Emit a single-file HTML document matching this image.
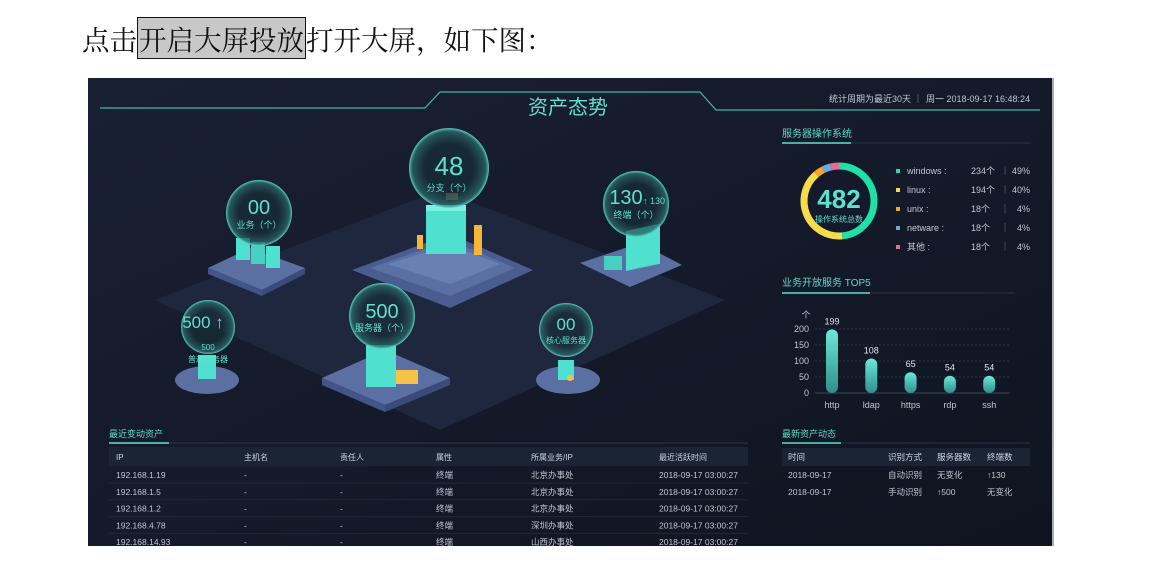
<!DOCTYPE html>
<html><head><meta charset="utf-8">
<style>
html,body{margin:0;padding:0;background:#fff;width:1150px;height:584px;overflow:hidden}
.top{position:absolute;left:82px;top:18px;font-family:"Noto Serif CJK SC","Liberation Serif",serif;font-size:27.5px;color:#111;line-height:40px;white-space:nowrap}
.hl{background:#c8c8c8;border:1.5px solid #111;padding:0 1px}
svg{position:absolute;left:0;top:0}
text{font-family:"Liberation Sans","Noto Sans CJK SC",sans-serif}
</style></head><body>
<div class="top">点击<span class="hl">开启大屏投放</span>打开大屏，如下图：</div>
<svg width="1150" height="584">
<defs>
<linearGradient id="bg" x1="0" y1="0" x2="1" y2="1"><stop offset="0" stop-color="#1a2034"/><stop offset="1" stop-color="#0f1420"/></linearGradient>
<radialGradient id="bub" cx="0.5" cy="0.5" r="0.5"><stop offset="0.6" stop-color="#17303a" stop-opacity="0.6"/><stop offset="0.92" stop-color="#2a6a6a" stop-opacity="0.8"/><stop offset="1" stop-color="#5ee0cf" stop-opacity="0.9"/></radialGradient>
<linearGradient id="bar" x1="0" y1="0" x2="0" y2="1"><stop offset="0" stop-color="#6ae8d8"/><stop offset="1" stop-color="#2f8f8c"/></linearGradient>
<clipPath id="dash"><rect x="88" y="78" width="966" height="468"/></clipPath>
</defs>
<g clip-path="url(#dash)">
<rect x="88" y="78" width="966" height="468" fill="url(#bg)"/>
<rect x="1052" y="78" width="3" height="468" fill="#aab0b8"/>
<polyline points="100,108 425,108 440,92 700,92 716,110 1040,110" fill="none" stroke="#3fb8aa" stroke-width="1.2"/>
<text x="568" y="114" text-anchor="middle" font-size="20" fill="#5ee0cf">资产态势</text>
<text x="829" y="102" font-size="9" fill="#c0c6d0">统计周期为最近30天</text>
<line x1="918" y1="94" x2="918" y2="103" stroke="#556"/>
<text x="926" y="102" font-size="9" fill="#c0c6d0">周一 2018-09-17 16:48:24</text>

<g>
<polygon points="155,300 440,190 725,300 440,430" fill="#222a44" opacity="0.8"/>
<polygon points="208,268 250,248 305,268 262,290" fill="#5b6fa3"/>
<polygon points="208,268 262,290 262,296 208,274" fill="#42548a"/><polygon points="262,290 305,268 305,274 262,296" fill="#3a4a7a"/>
<rect x="236" y="238" width="14" height="22" fill="#4fe0d0"/><rect x="251" y="242" width="14" height="22" fill="#46d0c2"/><rect x="266" y="246" width="14" height="22" fill="#4fe0d0"/>
<polygon points="352,270 450,234 533,270 450,308" fill="#4a5c90"/>
<polygon points="370,268 450,240 515,268 450,296" fill="#5b6fa3"/>
<polygon points="388,264 450,245 500,264 450,284" fill="#6a80b5"/>
<rect x="426" y="210" width="40" height="44" fill="#4fe0d0"/><rect x="426" y="205" width="40" height="6" fill="#7af0e2"/>
<rect x="474" y="225" width="8" height="30" fill="#f5b63a"/><rect x="417" y="235" width="6" height="14" fill="#f5b63a"/>
<rect x="446" y="193" width="12" height="7" fill="#8a7a50"/>
<polygon points="580,263 640,243 682,265 630,287" fill="#5b6fa3"/>
<rect x="626" y="230" width="34" height="40" fill="#4fe0d0" transform="skewY(-12) translate(0,134)"/>
<rect x="604" y="256" width="18" height="14" fill="#46d0c2"/>
<polygon points="322,378 385,350 450,378 385,405" fill="#5b6fa3"/>
<polygon points="322,378 385,405 385,412 322,385" fill="#42548a"/><polygon points="385,405 450,378 450,385 385,412" fill="#3a4a7a"/>
<rect x="366" y="345" width="30" height="42" fill="#4fe0d0"/><rect x="396" y="370" width="22" height="14" fill="#f5c24a"/>
<ellipse cx="207" cy="380" rx="32" ry="14" fill="#5b6fa3"/><rect x="198" y="355" width="18" height="24" fill="#4fe0d0"/>
<ellipse cx="568" cy="380" rx="32" ry="14" fill="#5b6fa3"/><rect x="558" y="360" width="16" height="20" fill="#4fe0d0"/><circle cx="570" cy="378" r="3" fill="#f5c24a"/>
</g>
<g fill="#5ee0cf" text-anchor="middle">
<circle cx="259" cy="213" r="33" fill="url(#bub)"/><text x="259" y="214" font-size="20">00</text><text x="259" y="228" font-size="9">业务（个）</text>
<circle cx="449" cy="168" r="40" fill="url(#bub)"/><text x="449" y="175" font-size="26">48</text><text x="449" y="191" font-size="9">分支（个）</text>
<circle cx="636" cy="204" r="33" fill="url(#bub)"/><text x="626" y="204" font-size="20">130</text><text x="654" y="204" font-size="9">↑ 130</text><text x="636" y="218" font-size="9">终端（个）</text>
<circle cx="208" cy="327" r="27" fill="url(#bub)"/><text x="203" y="328" font-size="17">500 ↑</text><text x="208" y="350" font-size="8">500</text><text x="208" y="362" font-size="8">普通服务器</text>
<circle cx="382" cy="316" r="33" fill="url(#bub)"/><text x="382" y="318" font-size="20">500</text><text x="382" y="331" font-size="9">服务器（个）</text>
<circle cx="566" cy="330" r="27" fill="url(#bub)"/><text x="566" y="330" font-size="17">00</text><text x="566" y="343" font-size="8">核心服务器</text>
</g>

<text x="782" y="137" font-size="10" fill="#5fd8c8">服务器操作系统</text>
<line x1="782" y1="143" x2="1030" y2="143" stroke="#2a3348"/><line x1="782" y1="143" x2="851" y2="143" stroke="#5ee0cf" stroke-width="1.5"/>
<g id="donut"></g>
<text x="839" y="208" text-anchor="middle" font-size="26" font-weight="bold" fill="#5ee0cf">482</text>
<text x="839" y="222" text-anchor="middle" font-size="8" fill="#5ee0cf">操作系统总数</text>
<g id="legend"></g>

<text x="782" y="286" font-size="10" fill="#5fd8c8">业务开放服务 TOP5</text>
<line x1="782" y1="293" x2="1015" y2="293" stroke="#2a3348"/><line x1="782" y1="293" x2="870" y2="293" stroke="#5ee0cf" stroke-width="1.5"/>
<text x="806" y="318" text-anchor="middle" font-size="9" fill="#c0c6d0">个</text>
<g id="bars"></g>

<text x="109" y="437" font-size="9" fill="#5fd8c8">最近变动资产</text>
<line x1="109" y1="443" x2="748" y2="443" stroke="#2a3348"/><line x1="109" y1="443" x2="169" y2="443" stroke="#5ee0cf" stroke-width="1.5"/>
<rect x="109" y="447" width="639" height="19" fill="#1b2434"/>
<g id="ltable"></g>

<text x="782" y="437" font-size="9" fill="#5fd8c8">最新资产动态</text>
<line x1="782" y1="443" x2="1030" y2="443" stroke="#2a3348"/><line x1="782" y1="443" x2="841" y2="443" stroke="#5ee0cf" stroke-width="1.5"/>
<rect x="782" y="448" width="248" height="18" fill="#1b2434"/>
<g id="rtable"></g>
</g>
</svg>
<script>
const osNames=["windows","linux","unix","netware","其他"];
const osCounts=[234,194,18,18,18];
const osPct=["49%","40%","4%","4%","4%"];
const osColors=["#1fe0a8","#f6dc4a","#f5a623","#6fa8dc","#e86c8e"];
const svcNames=["http","ldap","https","rdp","ssh"];
const svcValues=[199,108,65,54,54];
const yTicks=[0,50,100,150,200];
const NS="http://www.w3.org/2000/svg";
function mk(tag,attrs,parent,txt){const e=document.createElementNS(NS,tag);for(const k in attrs)e.setAttribute(k,attrs[k]);if(txt!==undefined)e.textContent=txt;parent.appendChild(e);return e;}
const dg=document.getElementById('donut');const cx=839,cy=201,r=35;
const tot=osCounts.reduce((a,b)=>a+b,0);let a0=0;
osCounts.forEach((v,i)=>{const a1=a0+v/tot*2*Math.PI;
 const x0=cx+r*Math.sin(a0),y0=cy-r*Math.cos(a0),x1=cx+r*Math.sin(a1),y1=cy-r*Math.cos(a1);
 const p=mk('path',{d:`M${x0},${y0} A${r},${r} 0 ${a1-a0>Math.PI?1:0} 1 ${x1},${y1}`,fill:'none',stroke:osColors[i],'stroke-width':7},dg);
 
 
 a0=a1;});
const lg=document.getElementById('legend');
osNames.forEach((n,i)=>{const y=174+i*19;
 const g=mk('g',{},lg);
 
 
 mk('rect',{x:896,y:y-5,width:4,height:4,fill:osColors[i]},g);
 mk('text',{x:907,y:y,'font-size':9,fill:'#c0c6d0'},g,n+' :');
 mk('text',{x:971,y:y,'font-size':9,fill:'#c0c6d0'},g,osCounts[i]+'个');
 mk('line',{x1:1005,y1:y-8,x2:1005,y2:y+1,stroke:'#3a4458'},g);
 mk('text',{x:1030,y:y,'font-size':9,fill:'#c0c6d0','text-anchor':'end'},g,osPct[i]);});
const bg=document.getElementById('bars');
const yS=v=>393-v*0.32; const xS=i=>832+i*39.3;
yTicks.forEach(t=>{mk('text',{x:809,y:yS(t)+3,'font-size':9,fill:'#c0c6d0','text-anchor':'end'},bg,t);
 if(t>0)mk('line',{x1:815,y1:yS(t),x2:1010,y2:yS(t),stroke:'#2a3348','stroke-dasharray':'2,2'},bg);});
mk('line',{x1:815,y1:yS(0),x2:1010,y2:yS(0),stroke:'#3a4458'},bg);
svcValues.forEach((v,i)=>{const b=mk('rect',{x:xS(i)-6,y:yS(v),width:12,height:yS(0)-yS(v),rx:6,fill:'url(#bar)'},bg);
 
 
 mk('text',{x:xS(i),y:yS(v)-5,'font-size':9,fill:'#e0e4ea','text-anchor':'middle'},bg,v);
 mk('text',{x:xS(i),y:408,'font-size':9,fill:'#c0c6d0','text-anchor':'middle'},bg,svcNames[i]);});
const lcols=[116,244,340,436,531,659];
const lhead=["IP","主机名","责任人","属性","所属业务/IP","最近活跃时间"];
const lrows=[["192.168.1.19","-","-","终端","北京办事处","2018-09-17 03:00:27"],["192.168.1.5","-","-","终端","北京办事处","2018-09-17 03:00:27"],["192.168.1.2","-","-","终端","北京办事处","2018-09-17 03:00:27"],["192.168.4.78","-","-","终端","深圳办事处","2018-09-17 03:00:27"],["192.168.14.93","-","-","终端","山西办事处","2018-09-17 03:00:27"]];
const lt=document.getElementById('ltable');
lhead.forEach((h,i)=>mk('text',{x:lcols[i],y:460,'font-size':8,fill:'#d0d4dc'},lt,h));
lrows.forEach((r,j)=>{const y=478+j*16.8;r.forEach((c,i)=>mk('text',{x:lcols[i],y:y,'font-size':8.5,fill:'#c0c6d0'},lt,c));
 mk('line',{x1:109,y1:y+5,x2:748,y2:y+5,stroke:'#1f2838'},lt);});
const rcols=[788,888,937,987];
const rhead=["时间","识别方式","服务器数","终端数"];
const rrows=[["2018-09-17","自动识别","无变化","↑130"],["2018-09-17","手动识别","↑500","无变化"]];
const rt=document.getElementById('rtable');
rhead.forEach((h,i)=>mk('text',{x:rcols[i],y:460,'font-size':8.5,fill:'#d0d4dc'},rt,h));
rrows.forEach((r,j)=>{const y=478+j*17;r.forEach((c,i)=>mk('text',{x:rcols[i],y:y,'font-size':8.5,fill:'#c0c6d0'},rt,c));});
</script>
</body></html>
